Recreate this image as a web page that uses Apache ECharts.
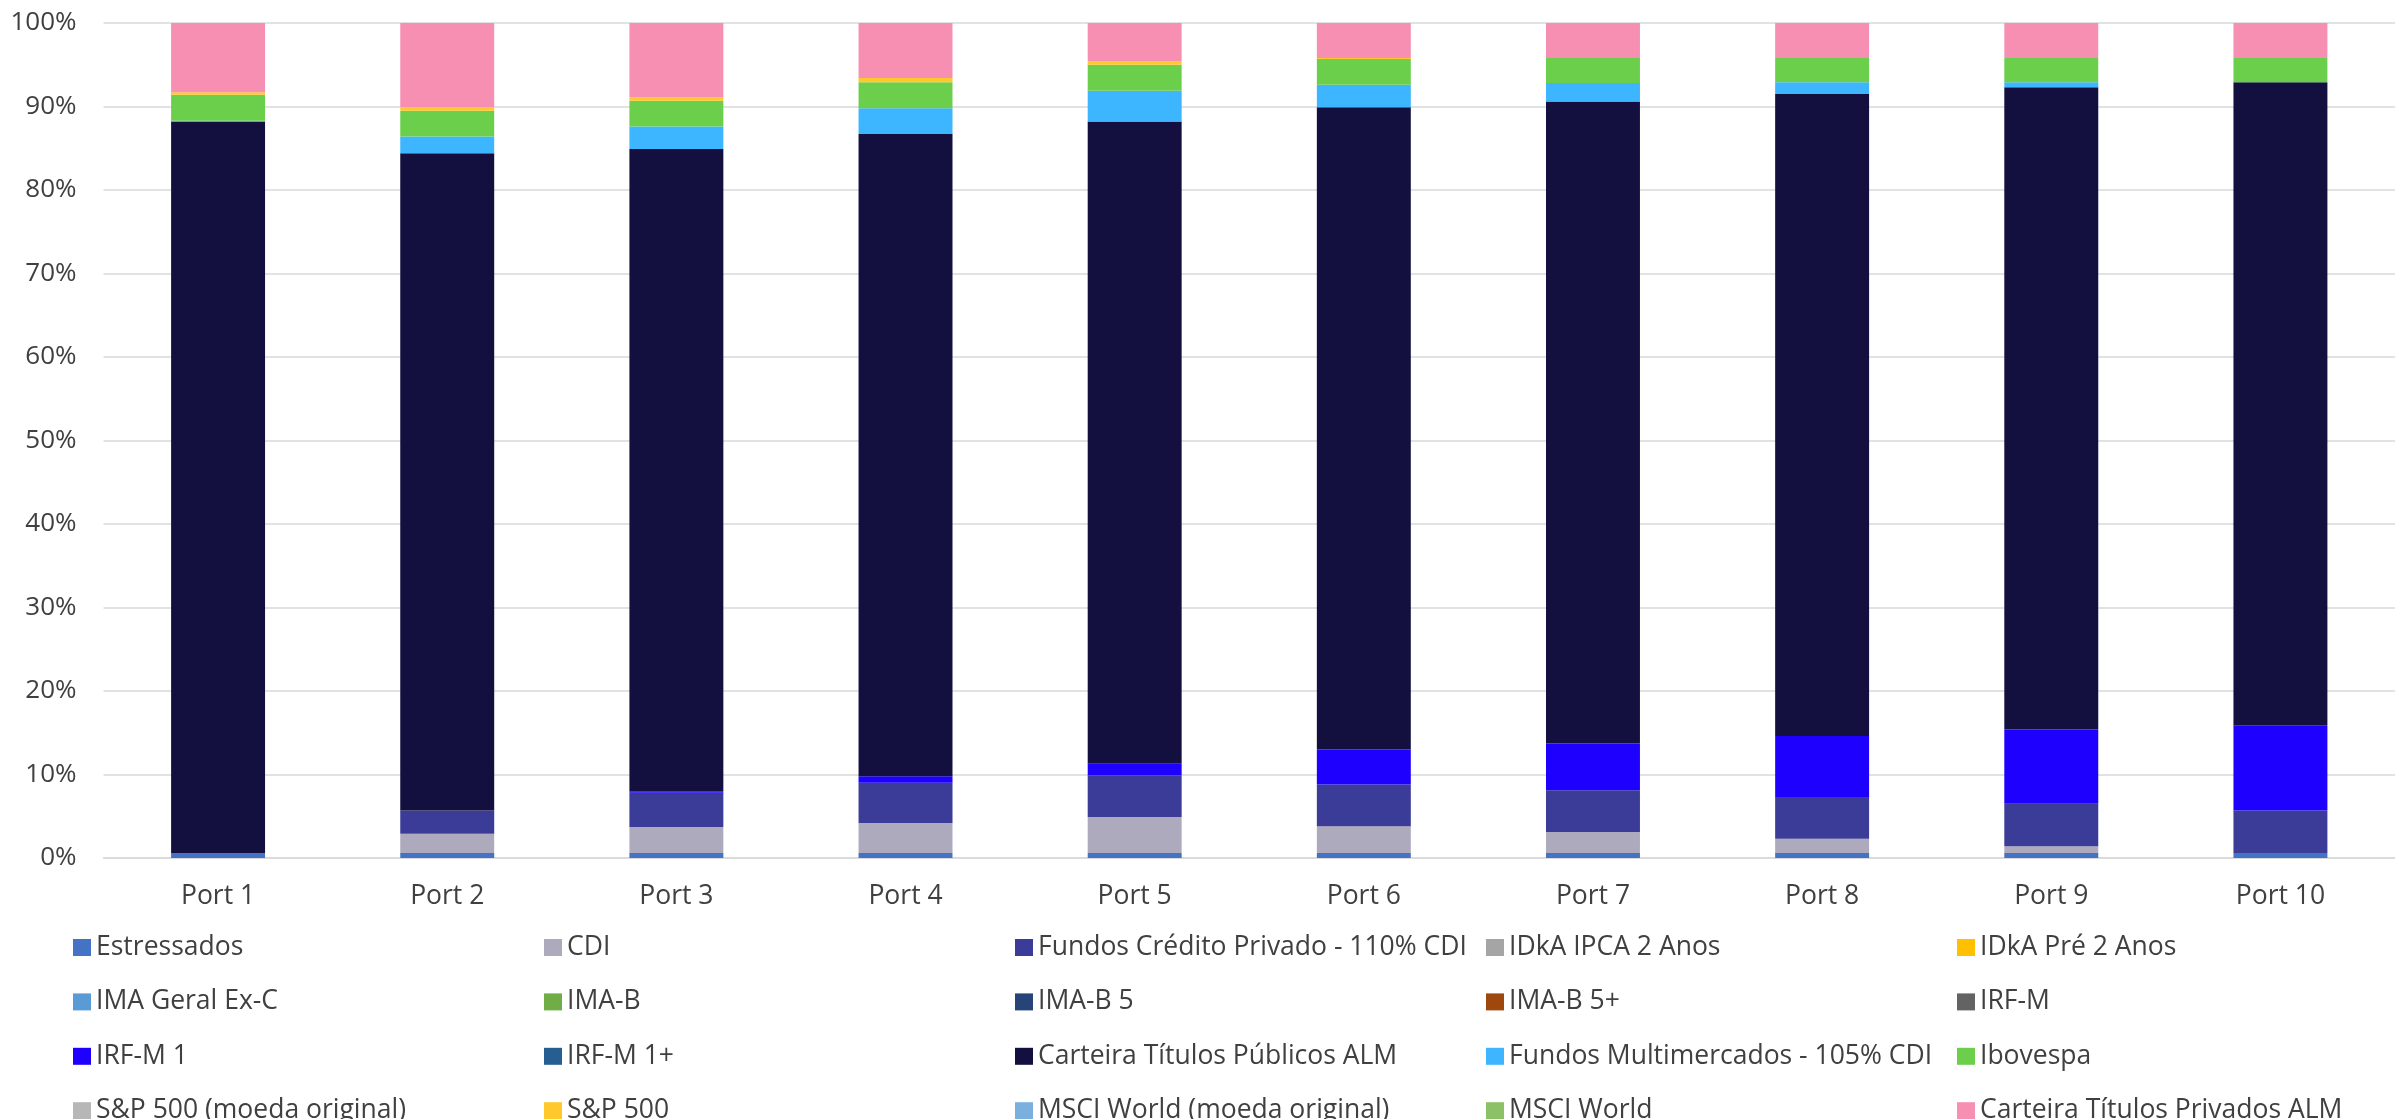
<!DOCTYPE html>
<html>
<head>
<meta charset="utf-8">
<script src="https://cdn.jsdelivr.net/npm/echarts@6/dist/echarts.min.js"></script>
<style>
  html, body { margin: 0; padding: 0; background: #fff; }
  #chart { width: 2395px; height: 1119px; }
</style>
</head>
<body>
<div id="chart"></div>
<script>
// categories + values (%)
const categories = ['Port 1', 'Port 2', 'Port 3', 'Port 4', 'Port 5', 'Port 6', 'Port 7', 'Port 8', 'Port 9', 'Port 10'];
const yTicks = [0, 10, 20, 30, 40, 50, 60, 70, 80, 90, 100];

const estressados   = [0.6, 0.6, 0.6, 0.6, 0.6, 0.6, 0.6, 0.6, 0.6, 0.6];
const cdi           = [0, 2.3, 3.1, 3.6, 4.3, 3.2, 2.5, 1.7, 0.8, 0];
const credPrivado   = [0, 2.8, 4.1, 4.8, 5.0, 5.0, 5.0, 5.0, 5.1, 5.1];
const idkaIpca      = [0, 0, 0, 0, 0, 0, 0, 0, 0, 0];
const idkaPre       = [0, 0, 0, 0, 0, 0, 0, 0, 0, 0];
const imaGeral      = [0, 0, 0, 0, 0, 0, 0, 0, 0, 0];
const imaB          = [0, 0, 0, 0, 0, 0, 0, 0, 0, 0];
const imaB5         = [0, 0, 0, 0, 0, 0, 0, 0, 0, 0];
const imaB5mais     = [0, 0, 0, 0, 0, 0, 0, 0, 0, 0];
const irfm          = [0, 0, 0, 0, 0, 0, 0, 0, 0, 0];
const irfm1         = [0, 0, 0.2, 0.8, 1.4, 4.2, 5.6, 7.3, 8.9, 10.2];
const irfm1mais     = [0, 0, 0, 0, 0, 0, 0, 0, 0, 0];
const publicosAlm   = [87.6, 78.7, 76.9, 76.9, 76.9, 76.9, 76.9, 76.9, 76.9, 77.0];
const multimercados = [0.1, 2.0, 2.7, 3.1, 3.7, 2.7, 2.2, 1.4, 0.6, 0];
const ibovespa      = [3.1, 3.1, 3.1, 3.1, 3.1, 3.1, 3.0, 2.9, 2.9, 2.9];
const spOrig        = [0, 0, 0, 0, 0, 0, 0, 0, 0, 0];
const sp500         = [0.3, 0.4, 0.4, 0.5, 0.4, 0.1, 0, 0, 0, 0];
const msciOrig      = [0, 0, 0, 0, 0, 0, 0, 0, 0, 0];
const msci          = [0, 0, 0, 0, 0, 0, 0, 0, 0, 0];
const privadosAlm   = [8.3, 10.1, 8.9, 6.6, 4.6, 4.2, 4.2, 4.2, 4.2, 4.2];

// stacking order = legend order
const seriesDefs = [
  ['Estressados', estressados, '#4472C4'],
  ['CDI', cdi, '#ADAABD'],
  ['Fundos Crédito Privado - 110% CDI', credPrivado, '#3B3B98'],
  ['IDkA IPCA 2 Anos', idkaIpca, '#A5A5A5'],
  ['IDkA Pré 2 Anos', idkaPre, '#FFC000'],
  ['IMA Geral Ex-C', imaGeral, '#5B9BD5'],
  ['IMA-B', imaB, '#70AD47'],
  ['IMA-B 5', imaB5, '#264478'],
  ['IMA-B 5+', imaB5mais, '#9E480E'],
  ['IRF-M', irfm, '#636363'],
  ['IRF-M 1', irfm1, '#1E00FF'],
  ['IRF-M 1+', irfm1mais, '#255E91'],
  ['Carteira Títulos Públicos ALM', publicosAlm, '#131040'],
  ['Fundos Multimercados - 105% CDI', multimercados, '#3DB5FF'],
  ['Ibovespa', ibovespa, '#6BCF4C'],
  ['S&P 500 (moeda original)', spOrig, '#B7B7B7'],
  ['S&P 500', sp500, '#FFC92E'],
  ['MSCI World (moeda original)', msciOrig, '#7AAFDE'],
  ['MSCI World', msci, '#8CC168'],
  ['Carteira Títulos Privados ALM', privadosAlm, '#F78FB3'],
];

const FONT = '"Open Sans", sans-serif';
const TXT = '#404040';

// legend is laid out as 5 columns x 4 rows (row-major like the original)
const legends = [];
for (let c = 0; c < 5; c++) {
  const names = [];
  for (let r = 0; r < 4; r++) names.push(seriesDefs[r * 5 + c][0]);
  legends.push({
    data: names,
    orient: 'vertical',
    left: 73 + c * 471,
    top: 934,
    height: 400, // keep each column from wrapping at the canvas bottom
    padding: 0,
    itemGap: 27.4,
    itemWidth: 18,
    itemHeight: 17,
    icon: 'rect',
    textStyle: { fontFamily: FONT, fontSize: 26.5, color: TXT, lineHeight: 26 },
  });
}

const chart = echarts.init(document.getElementById('chart'));

const option = {
  animation: false,
  backgroundColor: '#fff',
  legend: legends,
  grid: { left: 103.5, top: 23, width: 2301, height: 835 },
  xAxis: {
    type: 'category',
    data: categories,
    axisTick: { show: false },
    axisLine: { lineStyle: { color: '#D9D9D9', width: 1.5 } },
    axisLabel: { fontFamily: FONT, fontSize: 26.5, color: TXT, margin: 25 },
  },
  yAxis: {
    type: 'value',
    min: yTicks[0],
    max: yTicks[yTicks.length - 1],
    interval: yTicks[1] - yTicks[0],
    axisLine: { show: false },
    axisTick: { show: false },
    axisLabel: { fontFamily: FONT, fontSize: 26, color: TXT, margin: 27, formatter: '{value}%' },
    splitLine: { lineStyle: { color: '#D9D9D9', width: 1.5 } },
  },
  series: seriesDefs.map(([name, data, color]) => ({
    name: name,
    type: 'bar',
    stack: 'total',
    barWidth: '41%',
    data: data,
    itemStyle: { color: color },
  })),
};

chart.setOption(option);
</script>
</body>
</html>
